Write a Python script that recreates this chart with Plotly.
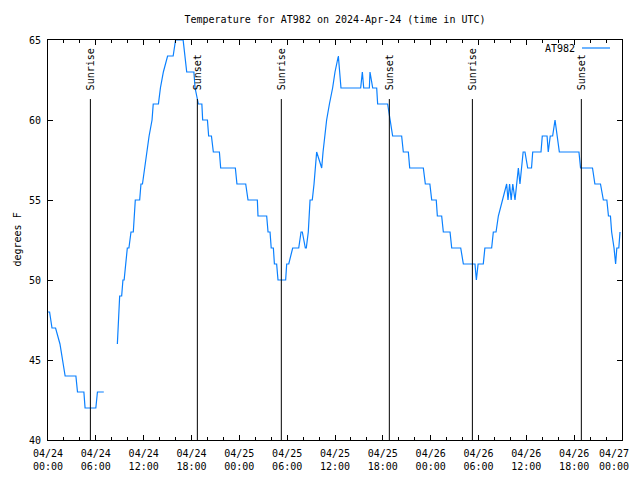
import pandas as pd
import plotly.graph_objects as go

start = pd.Timestamp("2024-04-24 00:00")

# hours since 2024-04-24 00:00 UTC, None marks a gap in the record
hours = [0.0, 0.2, 0.5, 0.95, 1.5, 1.85, 2.15, 3.5, 3.7, 4.5, 4.65, 6.0, 6.2, 7.0,
         None,
         8.70, 8.78, 8.9, 8.99, 9.24, 9.4, 9.55, 9.78, 9.95, 10.15, 10.41, 10.7, 10.83,
         10.95, 11.5, 11.66, 11.85, 12.1, 12.38, 12.68, 13.05, 13.2, 13.85, 14.1, 14.47,
         15.0, 15.7, 16.0, 16.95, 17.2, 17.4, 18.3, 18.45, 18.86, 19.3, 19.4, 20.0, 20.15,
         20.5, 20.74, 21.5, 21.66, 23.5, 23.7, 24.8, 25.09, 26.26, 26.34, 27.43, 27.6,
         27.85, 28.0, 28.27, 28.4, 28.68, 28.85, 29.19, 29.81, 29.94, 30.2, 30.69, 31.45,
         31.74, 31.9, 32.28, 32.4, 32.65, 32.87, 33.15, 33.37, 33.7, 34.33, 34.5, 34.75,
         34.95, 35.3, 35.7, 36.0, 36.42, 36.75, 39.22, 39.43, 39.6, 39.76, 40.31, 40.39,
         40.73, 41.23, 41.35, 42.6, 42.9, 43.23, 44.36, 44.57, 45.2, 45.37, 47.08, 47.33,
         47.9, 48.13, 48.7, 48.84, 49.38, 49.59, 50.43, 50.64, 51.77, 52.1, 53.56, 53.73,
         53.95, 54.6, 54.8, 55.65, 55.86, 56.2, 56.49, 56.99, 57.53, 57.7, 57.9, 58.1,
         58.3, 58.58, 59.0, 59.2, 59.4, 59.6, 59.83, 60.17, 60.65, 60.8, 61.84, 62.0,
         62.6, 62.75, 63.0, 63.3, 63.6, 64.14, 66.6, 66.8, 68.3, 68.6, 69.3, 69.66, 70.1,
         70.3, 70.55, 70.7, 71.0, 71.2, 71.35, 71.6, 71.75]
temps = [48, 48, 47, 47, 46, 45, 44, 44, 43, 43, 42, 42, 43, 43,
         None,
         46, 47, 48, 49, 49, 50, 50, 51, 52, 52, 53, 53, 54,
         55, 55, 56, 56, 57, 58, 59, 60, 61, 61, 62, 63,
         64, 64, 65, 65, 64, 63, 63, 62, 61, 61, 60, 60, 59,
         59, 58, 58, 57, 57, 56, 56, 55, 55, 54, 54, 53,
         53, 52, 52, 51, 51, 50, 50, 50, 51, 51, 52, 52,
         53, 53, 52, 52, 53, 55, 55, 56, 58, 57, 58, 59,
         60, 61, 62, 63, 64, 62, 62, 63, 62, 62, 62, 63,
         62, 62, 61, 61, 60, 59, 59, 58, 58, 57, 57, 56,
         56, 55, 55, 54, 54, 53, 53, 52, 52, 51, 51, 50,
         51, 51, 52, 52, 53, 53, 54, 55, 56, 55, 56, 55,
         56, 55, 57, 56, 57, 58, 58, 57, 57, 58, 58, 59,
         59, 58, 59, 59, 60, 58, 58, 57, 57, 56, 56, 55, 55,
         54, 54, 53, 52, 51, 52, 52, 53]

sun_events = ["2024-04-24 05:19", "2024-04-24 18:44", "2024-04-25 05:16",
              "2024-04-25 18:49", "2024-04-26 05:14", "2024-04-26 18:54"]
sun_labels = ["Sunrise", "Sunset", "Sunrise", "Sunset", "Sunrise", "Sunset"]

tick_times = ["2024-04-24 00:00", "2024-04-24 06:00", "2024-04-24 12:00", "2024-04-24 18:00",
              "2024-04-25 00:00", "2024-04-25 06:00", "2024-04-25 12:00", "2024-04-25 18:00",
              "2024-04-26 00:00", "2024-04-26 06:00", "2024-04-26 12:00", "2024-04-26 18:00",
              "2024-04-27 00:00"]
tick_labels = ["04/24<br>00:00", "04/24<br>06:00", "04/24<br>12:00", "04/24<br>18:00",
               "04/25<br>00:00", "04/25<br>06:00", "04/25<br>12:00", "04/25<br>18:00",
               "04/26<br>00:00", "04/26<br>06:00", "04/26<br>12:00", "04/26<br>18:00",
               "04/27<br>00:00"]

series_name = "AT982"
title_text = "Temperature for AT982 on 2024-Apr-24 (time in UTC)"

times = [None if h is None else start + pd.Timedelta(hours=h) for h in hours]

FONT = "DejaVu Sans Mono"
BLUE = "#0a80ff"
# the page body adds an 8px offset; the figure is sized so the plot lands where the reference has it
OFF = 8
W, H = 640 - OFF, 480 - 2 * OFF

fig = go.Figure()
fig.add_trace(go.Scatter(x=times, y=temps, mode="lines", name=series_name,
                         line=dict(color=BLUE, width=1.2), connectgaps=False,
                         showlegend=False))

shapes = []
annotations = []
for t, lab in zip(sun_events, sun_labels):
    shapes.append(dict(type="line", xref="x", yref="y", x0=t, x1=t, y0=40, y1=61.31,
                       line=dict(color="black", width=1)))
    annotations.append(dict(x=t, y=61.75, xref="x", yref="y", text=lab, textangle=-90,
                            showarrow=False, xanchor="center", yanchor="bottom",
                            font=dict(family=FONT, size=10, color="black")))

# key in gnuplot style: text then line sample
annotations.append(dict(x=(577 - 48) / 574, y=1 - (49 - 40) / 400, xref="paper", yref="paper",
                        text=series_name, showarrow=False, xanchor="right", yanchor="middle",
                        font=dict(family=FONT, size=10, color="black")))
shapes.append(dict(type="line", xref="paper", yref="paper",
                   x0=(582 - 48) / 574, x1=(610 - 48) / 574,
                   y0=1 - (48 - 40) / 400, y1=1 - (48 - 40) / 400,
                   line=dict(color=BLUE, width=1.2)))
# y axis label, kept just inside the left edge of the figure
annotations.append(dict(x=(OFF + 1 - 48) / 574, y=0.5, xref="paper", yref="paper",
                        text="degrees F", textangle=-90, showarrow=False,
                        xanchor="left", yanchor="middle",
                        font=dict(family=FONT, size=10, color="black")))
# last x tick label, pulled left a little so it is not clipped at the window edge
annotations.append(dict(x=(631 - 48) / 574, y=-(6 / 400), xref="paper", yref="paper",
                        text=tick_labels[-1], showarrow=False, xanchor="right", yanchor="top",
                        font=dict(family=FONT, size=10, color="black")))
axis_ticktext = tick_labels[:-1] + [""]

fig.update_layout(
    width=W, height=H,
    margin=dict(l=48 - OFF, r=18, t=40 - OFF, b=40 - OFF, autoexpand=False),
    paper_bgcolor="white", plot_bgcolor="white",
    font=dict(family=FONT, size=10, color="black"),
    title=dict(text=title_text, x=(335 - OFF) / W, xanchor="center", y=1 - (19 - OFF) / H,
               yanchor="middle", font=dict(family=FONT, size=10, color="black")),
    shapes=shapes, annotations=annotations,
    showlegend=False,
)
fig.update_xaxes(
    range=["2024-04-24 00:00", "2024-04-27 00:00"], type="date",
    tickmode="array", tickvals=tick_times, ticktext=axis_ticktext,
    ticks="inside", ticklen=5, tickcolor="black",
    minor=dict(ticks="inside", ticklen=3, tick0="2024-04-24 00:00",
               dtick=2 * 3600 * 1000, tickcolor="black"),
    showline=True, linecolor="black", linewidth=1, mirror="ticks",
    showgrid=False, zeroline=False, ticklabelstandoff=4, automargin=False,
    ticklabeloverflow="allow",
)
fig.update_yaxes(
    range=[40, 65], tickmode="linear", tick0=40, dtick=5,
    ticks="inside", ticklen=5, tickcolor="black",
    showline=True, linecolor="black", linewidth=1, mirror="ticks",
    showgrid=False, zeroline=False, ticklabelstandoff=4, automargin=False,
)

fig.write_html("out.html", default_width=f"{W}px", default_height=f"{H}px")
